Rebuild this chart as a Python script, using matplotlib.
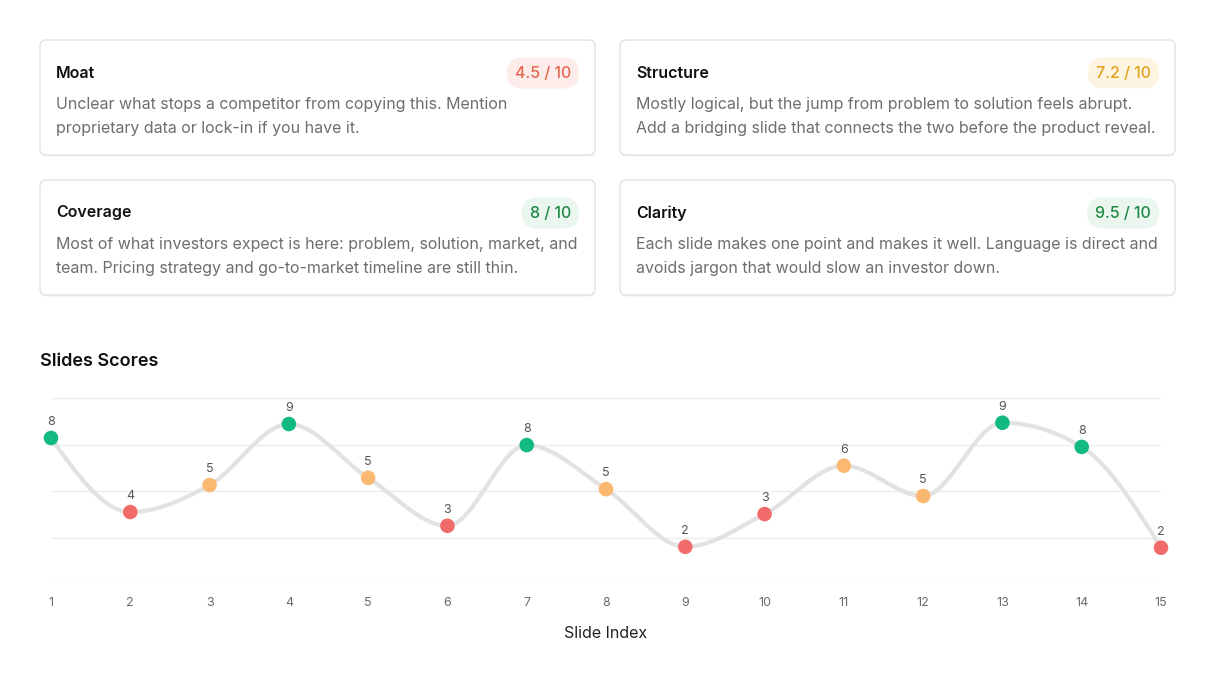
import numpy as np
import matplotlib
matplotlib.use("Agg")
from matplotlib import pyplot as plt
from matplotlib.patches import FancyBboxPatch

plt.rcParams['font.family'] = ['Inter', 'DejaVu Sans']

# card data
card_titles = ["Moat", "Structure", "Coverage", "Clarity"]
card_scores = ["4.5 / 10", "7.2 / 10", "8 / 10", "9.5 / 10"]
card_lines = [
    ["Unclear what stops a competitor from copying this. Mention",
     "proprietary data or lock-in if you have it."],
    ["Mostly logical, but the jump from problem to solution feels abrupt.",
     "Add a bridging slide that connects the two before the product reveal."],
    ["Most of what investors expect is here: problem, solution, market, and",
     "team. Pricing strategy and go-to-market timeline are still thin."],
    ["Each slide makes one point and makes it well. Language is direct and",
     "avoids jargon that would slow an investor down."],
]
badge_text_colors = ["#e5674f", "#e3a21c", "#1e8a45", "#1e8a45"]
badge_bg_colors = ["#fdecea", "#fdf5e1", "#eaf6ee", "#eaf6ee"]

# slide scores
slide_index = list(range(1, 16))
slide_labels = [8, 4, 5, 9, 5, 3, 8, 5, 2, 3, 6, 5, 9, 8, 2]
slide_values = [7.85, 3.87, 5.32, 8.6, 5.71, 3.13, 7.47, 5.1, 2.0, 3.76,
                6.36, 4.73, 8.67, 7.37, 1.95]


def monotone_curve(x, y, n=30):
    x = np.asarray(x, float)
    y = np.asarray(y, float)
    h = np.diff(x)
    s = np.diff(y) / h
    t = np.zeros_like(y)
    for i in range(1, len(y) - 1):
        s0, s1 = s[i - 1], s[i]
        p = (s0 * h[i] + s1 * h[i - 1]) / (h[i - 1] + h[i])
        t[i] = (np.sign(s0) + np.sign(s1)) * min(abs(s0), abs(s1), 0.5 * abs(p))
    t[0] = (3 * s[0] - t[1]) / 2
    t[-1] = (3 * s[-1] - t[-2]) / 2
    xs, ys = [], []
    for i in range(len(x) - 1):
        u = np.linspace(0, 1, n)
        h00 = 2 * u**3 - 3 * u**2 + 1
        h10 = u**3 - 2 * u**2 + u
        h01 = -2 * u**3 + 3 * u**2
        h11 = u**3 - u**2
        xs.append(x[i] + u * h[i])
        ys.append(h00 * y[i] + h10 * h[i] * t[i] + h01 * y[i + 1] + h11 * h[i] * t[i + 1])
    return np.concatenate(xs), np.concatenate(ys)


def point_color(v):
    if v >= 7:
        return "#12b981"
    if v >= 5:
        return "#fbb870"
    return "#f26b6b"


W, H = 1216, 684
fig = plt.figure(figsize=(W / 100, H / 100), dpi=100)
fig.patch.set_facecolor("white")

# background axes in pixel coordinates for the cards
bg = fig.add_axes([0, 0, 1, 1])
bg.set_xlim(0, W)
bg.set_ylim(H, 0)
bg.axis("off")

card_x = [40, 620, 40, 620]
card_y = [40, 40, 180, 180]
card_w, card_h = 555, 115

for i in range(4):
    x0, y0 = card_x[i], card_y[i]
    shadow = FancyBboxPatch((x0, y0 + 1.5), card_w, card_h,
                            boxstyle="round,pad=0,rounding_size=6",
                            fc="#f2f2f2", ec="none", zorder=1)
    bg.add_patch(shadow)
    card = FancyBboxPatch((x0, y0), card_w, card_h,
                          boxstyle="round,pad=0,rounding_size=6",
                          fc="white", ec="#e3e3e3", lw=1, zorder=2)
    bg.add_patch(card)
    bg.text(x0 + 16, y0 + 33, card_titles[i], fontsize=11.5, fontweight="semibold",
            color="#111111", va="center", ha="left", zorder=3)
    for j, line in enumerate(card_lines[i]):
        bg.text(x0 + 16, y0 + 65 + 24 * j, line, fontsize=11.5, color="#6e6e6e",
                va="center", ha="left", zorder=3)
    bg.text(x0 + card_w - 24, y0 + 33, card_scores[i], fontsize=11.5,
            fontweight="medium",
            color=badge_text_colors[i], va="center", ha="right", zorder=4,
            bbox=dict(boxstyle="round,pad=0.5,rounding_size=0.95",
                      fc=badge_bg_colors[i], ec="none"))

bg.text(40, 361, "Slides Scores", fontsize=13, fontweight="semibold",
        color="#111111", va="center", ha="left")

# chart axes
left, right, top, bottom = 51, 1161, 398, 584
ax = fig.add_axes([left / W, 1 - bottom / H, (right - left) / W, (bottom - top) / H])
ax.set_xlim(1, 15)
ax.set_ylim(0, 10)
ax.set_facecolor("none")
for sp in ax.spines.values():
    sp.set_visible(False)
ax.set_yticks([0, 2.5, 5, 7.5, 10])
ax.yaxis.grid(True, color="#eeeeee", lw=1)
ax.tick_params(axis="y", left=False, labelleft=False)
ax.set_xticks(slide_index)
ax.set_xticklabels([str(i) for i in slide_index])
ax.tick_params(axis="x", bottom=False, labelsize=9, colors="#6a6a6a", pad=6)
ax.set_xlabel("Slide Index", fontsize=11.5, color="#222222", labelpad=12)

cx, cy = monotone_curve(slide_index, slide_values)
ax.plot(cx, cy, color="#e2e2e2", lw=3, solid_capstyle="round", zorder=2, clip_on=False)
ax.scatter(slide_index, slide_values, s=110,
           c=[point_color(v) for v in slide_labels], zorder=3, clip_on=False,
           edgecolors="none")
for x, v, lab in zip(slide_index, slide_values, slide_labels):
    ax.annotate(str(lab), (x, v), xytext=(0, 7), textcoords="offset points",
                ha="center", va="bottom", fontsize=9, color="#555555")

fig.savefig("out.png", dpi=100, facecolor="white")
